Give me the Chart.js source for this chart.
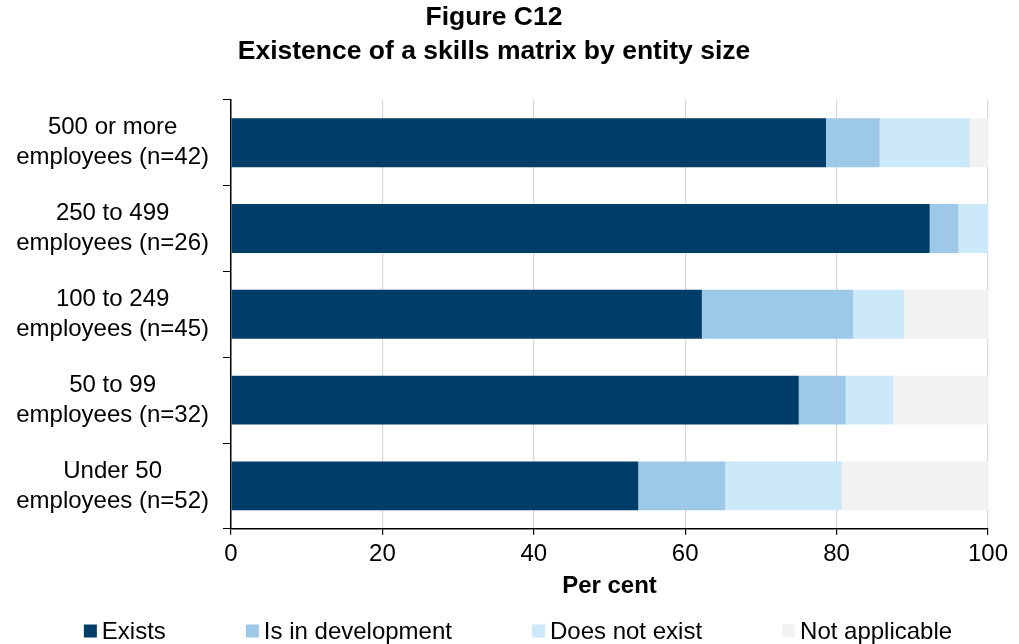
<!DOCTYPE html>
<html>
<head>
<meta charset="utf-8">
<script src="https://cdn.jsdelivr.net/npm/chart.js@4"></script>
<style>
  html, body { margin: 0; padding: 0; background: #fff; }
  #wrap { width: 1019px; height: 644px; position: relative; }
</style>
</head>
<body>
<div id="wrap"><canvas id="skillsChart"></canvas></div>
<script>
// Existence of a skills matrix, by entity size (per cent of entities)
const categories = [
    ['500 or more', 'employees (n=42)'],
    ['250 to 499', 'employees (n=26)'],
    ['100 to 249', 'employees (n=45)'],
    ['50 to 99', 'employees (n=32)'],
    ['Under 50', 'employees (n=52)']
];
const exists = [78.6, 92.3, 62.2, 75.0, 53.8];
const inDevelopment = [7.1, 3.8, 20.0, 6.2, 11.5];
const doesNotExist = [11.9, 3.9, 6.7, 6.3, 15.4];
const notApplicable = [2.4, 0, 11.1, 12.5, 19.3];
const xTicks = [0, 20, 40, 60, 80, 100];

const FONT = "'Liberation Sans', Arial, sans-serif";

function serie(label, data, color) {
    return {
        label: label,
        data: data,
        backgroundColor: color,
        borderWidth: 0,
        barPercentage: 0.57,
        categoryPercentage: 1.0
    };
}

// Hand-drawn legend: small square, text close to it, wide spacing between items
const bottomLegend = {
    id: 'bottomLegend',
    afterDraw(chart) {
        const ctx = chart.ctx;
        const box = 13, gap = 5, spacing = 80;
        const centerX = 518, centerY = 631;

        ctx.save();
        ctx.font = '24px ' + FONT;
        ctx.textBaseline = 'middle';
        ctx.textAlign = 'left';

        const items = chart.data.datasets.map(ds => ({
            label: ds.label,
            color: ds.backgroundColor,
            width: ctx.measureText(ds.label).width
        }));
        const total = items.reduce((s, it) => s + box + gap + it.width, 0) + spacing * (items.length - 1);

        let x = centerX - total / 2;
        items.forEach(it => {
            ctx.fillStyle = it.color;
            ctx.fillRect(x, centerY - box / 2, box, box);
            ctx.fillStyle = '#000';
            ctx.fillText(it.label, x + box + gap, centerY + 1);
            x += box + gap + it.width + spacing;
        });
        ctx.restore();
    }
};

new Chart(document.getElementById('skillsChart').getContext('2d'), {
    type: 'bar',
    data: {
        labels: categories,
        datasets: [
            serie('Exists', exists, '#003d69'),
            serie('Is in development', inDevelopment, '#9dc8e8'),
            serie('Does not exist', doesNotExist, '#cce9f9'),
            serie('Not applicable', notApplicable, '#f2f2f2')
        ]
    },
    plugins: [bottomLegend],
    options: {
        indexAxis: 'y',
        responsive: true,
        maintainAspectRatio: false,
        animation: false,
        layout: {
            padding: { left: 0, right: 31, top: 0, bottom: 44 }
        },
        plugins: {
            title: {
                display: true,
                text: ['Figure C12', 'Existence of a skills matrix by entity size'],
                color: '#000',
                font: { family: FONT, size: 26.5, weight: 'bold', lineHeight: 1.28 },
                padding: { top: 1, bottom: 31 }
            },
            legend: { display: false },
            tooltip: { enabled: false }
        },
        scales: {
            x: {
                stacked: true,
                min: 0,
                max: 100,
                afterBuildTicks: function(scale) {
                    scale.ticks = xTicks.map(v => ({ value: v }));
                },
                grid: {
                    color: ctx => ctx.tick && ctx.tick.value === 0 ? 'rgba(0,0,0,0)' : '#d9d9d9',
                    tickColor: '#000',
                    tickLength: 6,
                    lineWidth: 1.2
                },
                border: { color: '#000', width: 1.5 },
                ticks: {
                    color: '#000',
                    font: { family: FONT, size: 24 },
                    padding: 5
                },
                title: {
                    display: true,
                    text: 'Per cent',
                    color: '#000',
                    font: { family: FONT, size: 24, weight: 'bold', lineHeight: 1.1 },
                    padding: { top: 0, bottom: 0 }
                }
            },
            y: {
                stacked: true,
                afterFit: function(scale) {
                    scale.width = 231;
                },
                grid: {
                    offset: true,
                    drawOnChartArea: false,
                    tickColor: '#000',
                    tickLength: 8
                },
                border: { color: '#000', width: 1.5 },
                ticks: {
                    color: '#000',
                    font: { family: FONT, size: 24, lineHeight: 1.25 },
                    crossAlign: 'center',
                    autoSkip: false,
                    padding: 14
                }
            }
        }
    }
});
</script>
</body>
</html>
